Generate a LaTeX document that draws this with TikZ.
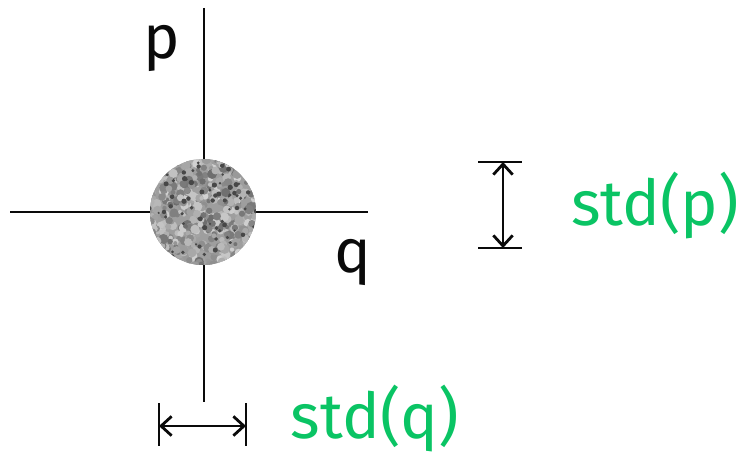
\documentclass[tikz,border=0pt]{standalone}
\usepackage{fontspec}
\setmainfont{Fira Sans}
\usepackage{xcolor}
\usepackage{tikz}
\usetikzlibrary{arrows.meta,positioning}
\definecolor{stdgreen}{RGB}{10,196,100}
\definecolor{ink}{RGB}{10,10,10}

\begin{document}
\begin{tikzpicture}[
  x=0.02cm,y=-0.02cm,
  axis/.style={draw=ink,line width=1.1pt},
  tick/.style={draw=ink,line width=1.1pt},
  dim/.style={{Straight Barb[length=6pt,width=11pt,line width=1.6pt]}-{Straight Barb[length=6pt,width=11pt,line width=1.6pt]},draw=ink,line width=1.2pt},
  axlabel/.style={font=\fontsize{35}{40}\selectfont,text=ink,inner sep=0pt},
  stdlabel/.style={font=\fontsize{36}{41}\selectfont,text=stdgreen,inner sep=0pt}
]
  \useasboundingbox (0,0) rectangle (750,456);
  % axes
  \coordinate (ptop) at (204,8);
  \coordinate (pbot) at (204,402);
  \coordinate (qleft) at (10,212);
  \coordinate (qright) at (368,212);
  \draw[axis] (ptop) -- (pbot);
  \draw[axis] (qleft) -- (qright);
  \node[axlabel] (plab) at (162,48) {p};
  \node[axlabel] (qlab) at (353,262) {q};
  % speckled spot
  \node[circle,fill=black!38,minimum size=106*0.02cm,inner sep=0pt] (spot) at (203,212) {};
  \begin{scope}
    \clip (spot.center) circle (53);
    \pgfmathsetseed{11}
    \foreach \i in {1,...,600}{
      \pgfmathsetmacro\rx{203+rand*55}
      \pgfmathsetmacro\ry{212+rand*55}
      \pgfmathtruncatemacro\g{18+rnd*40}
      \pgfmathsetmacro\rr{2+rnd*3}
      \fill[black!\g] (\rx,\ry) circle (\rr);
    }
    \pgfmathsetseed{5}
    \foreach \i in {1,...,80}{
      \pgfmathsetmacro\rx{203+rand*55}
      \pgfmathsetmacro\ry{212+rand*55}
      \pgfmathsetmacro\rr{1.2+rnd*1.5}
      \fill[black!72] (\rx,\ry) circle (\rr);
    }
  \end{scope}
  % std(p)
  \coordinate (ptickA) at (503,162);
  \coordinate (ptickB) at (503,248);
  \draw[tick] (478,162) -- (522,162);
  \draw[tick] (478,248) -- (522,248);
  \draw[dim] (ptickA) -- (ptickB);
  \node[stdlabel] (stdp) at (655,206) {std(p)};
  % std(q)
  \coordinate (qtickA) at (159,426);
  \coordinate (qtickB) at (246,426);
  \draw[tick] (159,403) -- (159,446);
  \draw[tick] (246,403) -- (246,446);
  \draw[dim] (qtickA) -- (qtickB);
  \node[stdlabel] (stdq) at (375,419) {std(q)};
\end{tikzpicture}
\end{document}
